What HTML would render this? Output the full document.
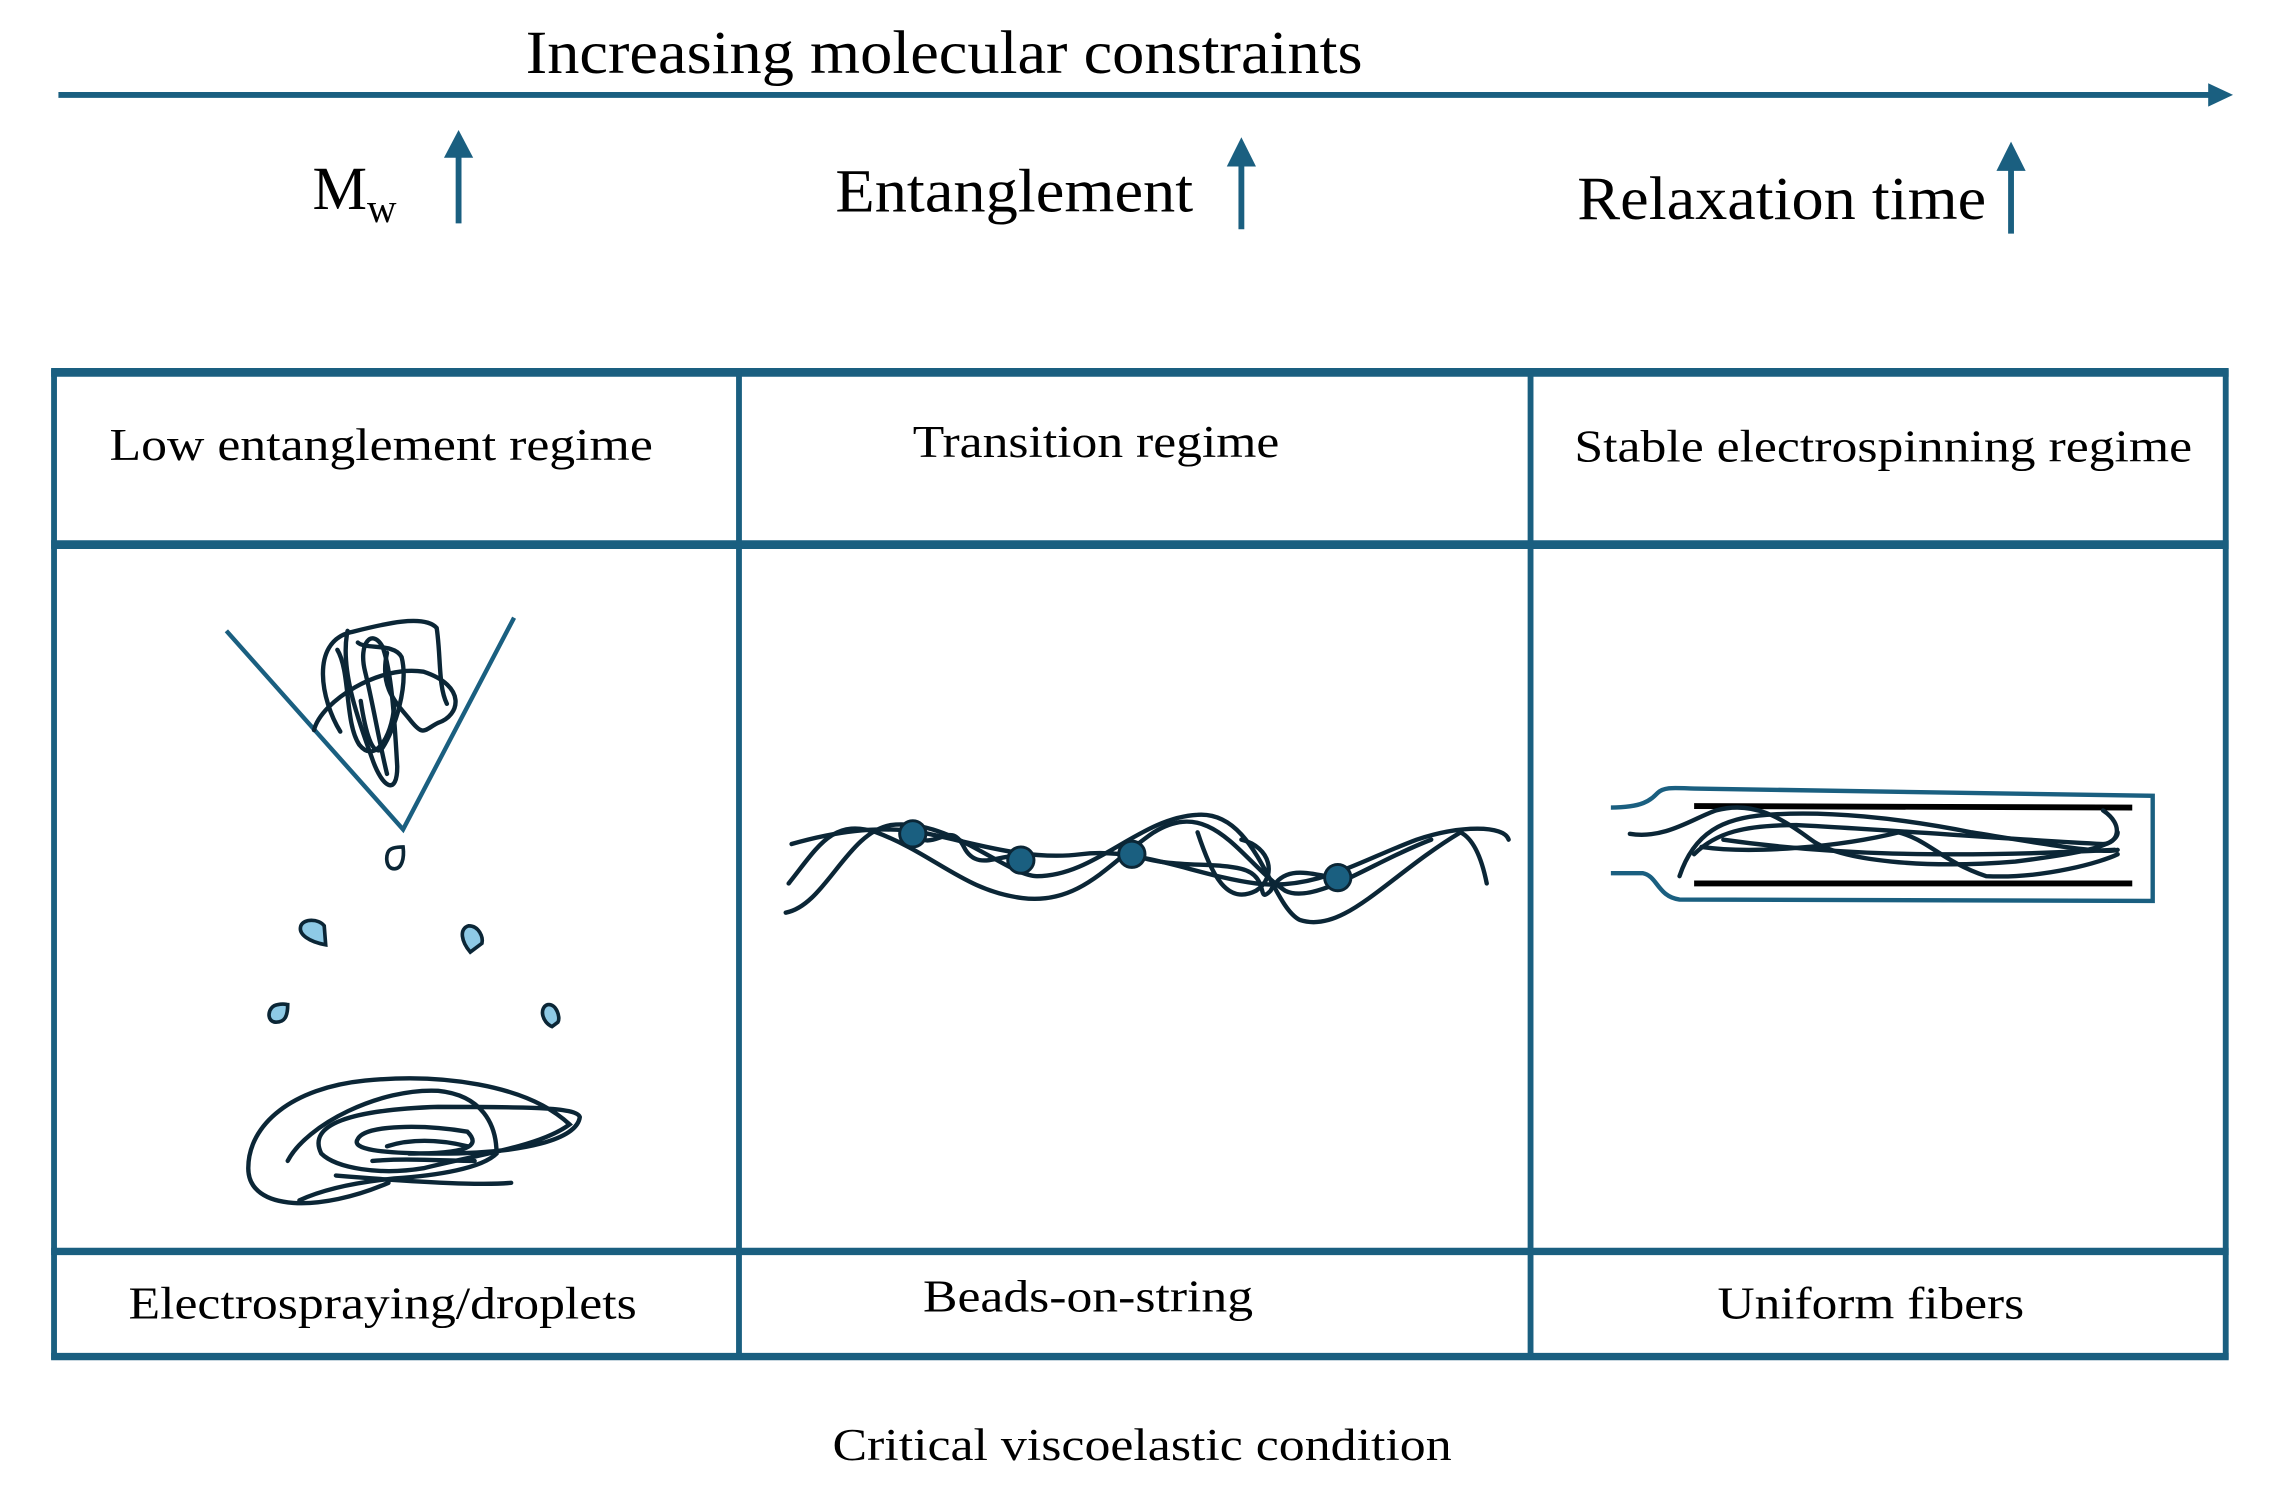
<!DOCTYPE html>
<html><head><meta charset="utf-8"><style>
html,body{margin:0;padding:0;background:#fff;}
svg{display:block;}
text{font-family:"Liberation Serif",serif;fill:#000;}
</style></head><body>
<svg width="2271" height="1488" viewBox="0 0 1555 1019" preserveAspectRatio="none" xmlns="http://www.w3.org/2000/svg">
<g stroke="#1a5f80" fill="#1a5f80">
<line x1="40" y1="65" x2="1514" y2="65" stroke-width="4"/>
<polygon points="1512,57 1529,65 1512,73" stroke="none"/>
<line x1="314" y1="153" x2="314" y2="104" stroke-width="4"/>
<polygon points="304,108 314,89 324,108" stroke="none"/>
<line x1="850" y1="157" x2="850" y2="110" stroke-width="4"/>
<polygon points="840,114 850,94 860,114" stroke="none"/>
<line x1="1377" y1="160" x2="1377" y2="113" stroke-width="4"/>
<polygon points="1367,117 1377,97 1387,117" stroke="none"/>
</g>
<text x="360" y="50" font-size="42" textLength="573" lengthAdjust="spacingAndGlyphs">Increasing molecular constraints</text>
<text x="214" y="143" font-size="42">M<tspan font-size="28" dy="9">w</tspan></text>
<text x="572" y="145" font-size="42" textLength="245" lengthAdjust="spacingAndGlyphs">Entanglement</text>
<text x="1080" y="150" font-size="42" textLength="280" lengthAdjust="spacingAndGlyphs">Relaxation time</text>

<g stroke="#1a5f80" fill="none">
<line x1="35" y1="255" x2="1526" y2="255" stroke-width="6"/>
<line x1="35" y1="373" x2="1526" y2="373" stroke-width="6"/>
<line x1="35" y1="857" x2="1526" y2="857" stroke-width="5"/>
<line x1="35" y1="929" x2="1526" y2="929" stroke-width="5"/>
<line x1="37" y1="253" x2="37" y2="931" stroke-width="4"/>
<line x1="506" y1="253" x2="506" y2="931" stroke-width="4"/>
<line x1="1048" y1="253" x2="1048" y2="931" stroke-width="4"/>
<line x1="1524" y1="253" x2="1524" y2="931" stroke-width="4"/>
</g>
<text x="75" y="315" font-size="31" textLength="372" lengthAdjust="spacingAndGlyphs">Low entanglement regime</text>
<text x="625" y="313" font-size="31" textLength="251" lengthAdjust="spacingAndGlyphs">Transition regime</text>
<text x="1078" y="316" font-size="31" textLength="423" lengthAdjust="spacingAndGlyphs">Stable electrospinning regime</text>
<text x="88" y="903" font-size="31" textLength="348" lengthAdjust="spacingAndGlyphs">Electrospraying/droplets</text>
<text x="632" y="898" font-size="31" textLength="226" lengthAdjust="spacingAndGlyphs">Beads-on-string</text>
<text x="1176" y="903" font-size="31" textLength="210" lengthAdjust="spacingAndGlyphs">Uniform fibers</text>
<text x="570" y="1000" font-size="31" textLength="424" lengthAdjust="spacingAndGlyphs">Critical viscoelastic condition</text>

<!-- cone -->
<polyline points="155,432 276,568 352,423" fill="none" stroke="#1a5f80" stroke-width="3"/>
<g fill="none" stroke="#0b2636" stroke-width="3" stroke-linecap="round" stroke-linejoin="round">
<path d="M233,501 C220,480 212,440 240,433 C260,428 290,420 299,430 C302,450 300,470 306,482"/>
<path d="M215,500 C220,480 260,455 290,460 C320,470 315,490 300,495 C290,500 290,505 280,492 C270,480 260,470 265,447"/>
<path d="M238,432 C232,460 248,500 255,520 C262,540 272,545 272,525 C270,490 268,460 262,443 C255,430 245,440 250,460 C255,480 260,510 265,530"/>
<path d="M245,440 C250,445 270,440 275,450 C280,470 270,500 262,512 C255,520 250,500 247,480"/>
<path d="M231,445 C240,460 236,495 246,510 C258,525 270,500 270,480"/>
</g>
<!-- droplets -->
<g fill="#8ecae6" stroke="#0b2636" stroke-width="2.5">
<path d="M270,595 C264,595 264,586 266,583 C268,580 274,580 276,580 C277,588 275,595 270,595Z" fill="#fff"/>
<path d="M223,647 C212,645 204,640 206,634 C208,629 218,629 222,634 Z"/>
<path d="M322,652 C316,645 314,636 321,634 C328,634 331,642 330,646 Z"/>
<path d="M189,700 C182,700 183,689 190,688 C195,687 196,688 197,688 C197,696 195,700 189,700Z"/>
<path d="M378,703 C371,700 369,690 375,688 C381,687 384,697 382,700 Z"/>
</g>
<!-- bottom scribble -->
<g fill="none" stroke="#0b2636" stroke-width="3" stroke-linecap="round">
<path d="M266,810 C220,830 170,830 170,800 C170,770 200,745 250,740 C300,735 360,742 390,770 C370,785 330,790 290,800 C260,805 230,800 220,790 C210,770 240,760 300,758 C360,758 395,758 397,765 C395,780 360,790 300,790 C260,790 240,787 245,780 C250,770 290,770 320,775 C330,785 320,790 280,790"/>
<path d="M197,795 C210,770 260,745 300,747 C330,750 340,770 340,790 C330,800 300,805 270,807 C240,810 220,815 205,822"/>
<path d="M265,785 C280,780 300,780 320,785 M255,795 C280,793 300,795 325,795 M230,805 C290,810 330,812 350,810"/>
</g>

<!-- beads on string -->
<g fill="none" stroke="#0b2636" stroke-width="3" stroke-linecap="round">
<path d="M540,605 C560,580 570,560 600,570 C640,585 660,610 700,615 C740,620 760,590 790,570 C830,545 850,590 880,610 C900,620 940,590 980,575"/>
<path d="M538,625 C565,620 580,570 610,565 C650,560 690,600 710,600 C750,600 780,560 820,558 C860,555 870,620 890,630 C920,640 950,600 1000,570 C1010,575 1015,590 1018,605"/>
<path d="M542,578 C570,570 600,565 630,570 C660,575 700,590 740,585 C780,580 820,600 860,605 C900,610 930,590 970,575 C1000,565 1030,565 1033,575"/>
<path d="M625,571 C640,585 650,560 660,580 C670,600 690,580 700,589 M775,585 C800,595 830,590 850,595 C870,600 860,620 870,610 C880,590 900,600 916,601"/>
<path d="M820,570 C830,600 840,620 860,610 C875,600 870,580 850,575"/>
</g>
<g fill="#1a5f80" stroke="#0b2636" stroke-width="2">
<circle cx="625" cy="571" r="9"/>
<circle cx="699" cy="589" r="9"/>
<circle cx="775" cy="585" r="9"/>
<circle cx="916" cy="601" r="9"/>
</g>

<!-- uniform fibers -->
<path d="M1103,553 C1125,553 1130,548 1135,543 C1140,538 1150,540 1160,540 L1474,545 L1474,617 L1150,616 C1135,614 1135,600 1125,598 L1103,598" fill="none" stroke="#1a5f80" stroke-width="3"/>
<g stroke="#000" stroke-width="4">
<line x1="1160" y1="552" x2="1460" y2="553"/>
<line x1="1160" y1="605" x2="1460" y2="605"/>
</g>
<g fill="none" stroke="#0b2636" stroke-width="3" stroke-linecap="round">
<path d="M1116,571 C1140,575 1160,560 1175,555 C1200,548 1220,560 1240,575 C1260,590 1320,595 1380,590 C1420,585 1450,580 1450,570"/>
<path d="M1150,600 C1160,570 1180,560 1210,558 C1250,555 1300,560 1350,570 C1400,578 1440,585 1450,582"/>
<path d="M1160,585 C1175,570 1195,565 1230,565 C1290,568 1380,575 1440,578 C1450,578 1455,565 1440,555"/>
<path d="M1165,580 C1200,585 1260,580 1300,570 C1320,575 1330,590 1360,600 C1400,602 1440,590 1450,585"/>
<path d="M1180,575 C1250,585 1330,588 1448,582"/>
</g>
</svg>
</body></html>
